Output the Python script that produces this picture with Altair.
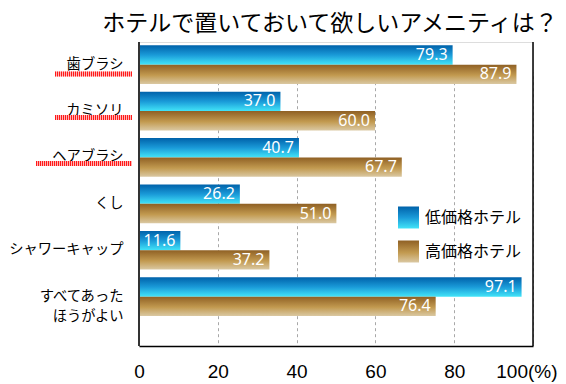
import altair as alt
import pandas as pd

categories = ["歯ブラシ", "カミソリ", "ヘアブラシ", "くし", "シャワーキャップ", "すべてあった\nほうがよい"]
series = ["低価格ホテル", "高価格ホテル"]
# printed values
label_low = [79.3, 37.0, 40.7, 26.2, 11.6, 97.1]
label_high = [87.9, 60.0, 67.7, 51.0, 37.2, 76.4]
# bar lengths as drawn in the picture (the original's bars do not all match their labels)
bar_low = [79.6, 35.9, 40.6, 25.6, 10.5, 97.1]
bar_high = [95.8, 59.9, 66.7, 50.1, 33.1, 75.3]
x_ticks = [0, 20, 40, 60, 80, 100]

rows = []
for c, bl, bh, ll, lh in zip(categories, bar_low, bar_high, label_low, label_high):
    rows.append({"cat": c, "series": series[0], "value": bl, "label": ll})
    rows.append({"cat": c, "series": series[1], "value": bh, "label": lh})
df = pd.DataFrame(rows)

FONT_JP = "Noto Sans CJK JP"

blue_grad = alt.LinearGradient(
    gradient="linear",
    stops=[alt.GradientStop(color="#0062aa", offset=0),
           alt.GradientStop(color="#1a9ad8", offset=0.5),
           alt.GradientStop(color="#42e4f8", offset=1)],
    x1=0, x2=0, y1=0, y2=1)
brown_grad = alt.LinearGradient(
    gradient="linear",
    stops=[alt.GradientStop(color="#8f6024", offset=0),
           alt.GradientStop(color="#c29a50", offset=0.55),
           alt.GradientStop(color="#dac8a2", offset=1)],
    x1=0, x2=0, y1=0, y2=1)

x_enc = alt.X("value:Q", scale=alt.Scale(domain=[0, 100]),
              axis=alt.Axis(values=x_ticks, title=None, ticks=False, grid=True,
                            gridDash=[3, 3], gridColor="#a8a8a8", domainColor="black",
                            domainWidth=1.5, labelFlush=False,
                            labelExpr="datum.value == 100 ? '100(%)' : datum.label",
                            labelAlign={"condition": {"test": "datum.value == 100", "value": "right"},
                                        "value": "center"},
                            labelOffset={"condition": {"test": "datum.value == 100", "value": 24},
                                         "value": 0},
                            labelFontSize=19, labelFont="Liberation Sans",
                            labelColor="black", labelPadding=16))
y_enc = alt.Y("cat:N", sort=categories,
              scale=alt.Scale(domain=categories, range=[3.3, 274], paddingInner=0.166, paddingOuter=0),
              axis=alt.Axis(title=None, ticks=False, domain=False, grid=False,
                            labelFontSize=14.3, labelFont=FONT_JP, labelColor="black",
                            labelPadding=16, labelExpr="split(datum.label, '\\n')",
                            labelLineHeight=20))
yoff_enc = alt.YOffset("series:N", scale=alt.Scale(domain=series, paddingInner=0, paddingOuter=0))

base = alt.Chart(df)

bars_low = base.transform_filter(alt.datum.series == series[0]).mark_bar(color=blue_grad).encode(
    x=x_enc, y=y_enc, yOffset=yoff_enc)
bars_high = base.transform_filter(alt.datum.series == series[1]).mark_bar(color=brown_grad).encode(
    x=x_enc, y=y_enc, yOffset=yoff_enc)
labels = base.mark_text(align="right", baseline="middle", dx=-5, color="white",
                        fontSize=16, font="Noto Sans").encode(
    x=x_enc, y=y_enc, yOffset=yoff_enc, text=alt.Text("label:Q", format=".1f"))

one = pd.DataFrame({"k": [0]})
left_line = alt.Chart(one).mark_rule(color="#333333", strokeWidth=2).encode(x=alt.datum(0))
right_line = alt.Chart(one).mark_rule(color="black", strokeWidth=1.5).encode(x=alt.datum(100))

# legend
leg_df = pd.DataFrame({"s": series})
leg_box1 = alt.Chart(one).mark_rect(color=blue_grad).encode(
    x=alt.value(259), x2=alt.value(280), y=alt.value(164.5), y2=alt.value(186.5))
leg_box2 = alt.Chart(one).mark_rect(color=brown_grad).encode(
    x=alt.value(259), x2=alt.value(280), y=alt.value(198.5), y2=alt.value(220.5))
leg_t1 = alt.Chart(leg_df).transform_filter(alt.datum.s == series[0]).mark_text(
    align="left", baseline="middle", fontSize=16, font=FONT_JP, color="black").encode(
    text="s:N", x=alt.value(286), y=alt.value(175.5))
leg_t2 = alt.Chart(leg_df).transform_filter(alt.datum.s == series[1]).mark_text(
    align="left", baseline="middle", fontSize=16, font=FONT_JP, color="black").encode(
    text="s:N", x=alt.value(286), y=alt.value(209.5))

# red spell-check style underlines under first three labels
def underline(x1, x2, y):
    bg = alt.Chart(one).mark_rule(color="#ffb4b4", strokeWidth=5).encode(
        x=alt.value(x1), x2=alt.value(x2), y=alt.value(y))
    fg = alt.Chart(one).mark_rule(color="#ff1a1a", strokeWidth=5, strokeDash=[1, 1]).encode(
        x=alt.value(x1), x2=alt.value(x2), y=alt.value(y))
    return bg + fg

u1 = underline(-84, -7, 32)
u2 = underline(-84, -7, 75.6)
u3 = underline(-103, -7, 121.6)

chart = alt.layer(
    bars_low, bars_high, labels, left_line, right_line,
    leg_box1, leg_box2, leg_t1, leg_t2, u1, u2, u3
).properties(
    width=394, height=304,
    title=alt.TitleParams("ホテルで置いておいて欲しいアメニティは？", fontSize=23, font=FONT_JP,
                          fontWeight="normal", color="black", anchor="middle", offset=5, dx=-6),
    autosize=alt.AutoSizeParams(type="none"),
    padding={"left": 131, "top": 34, "right": 25, "bottom": 38},
).resolve_scale(y="shared", x="shared").configure_view(
    fill="#dddbd6", stroke=None
).configure(background="white")

chart.save("out.html", embed_options={"renderer": "svg", "actions": False})
